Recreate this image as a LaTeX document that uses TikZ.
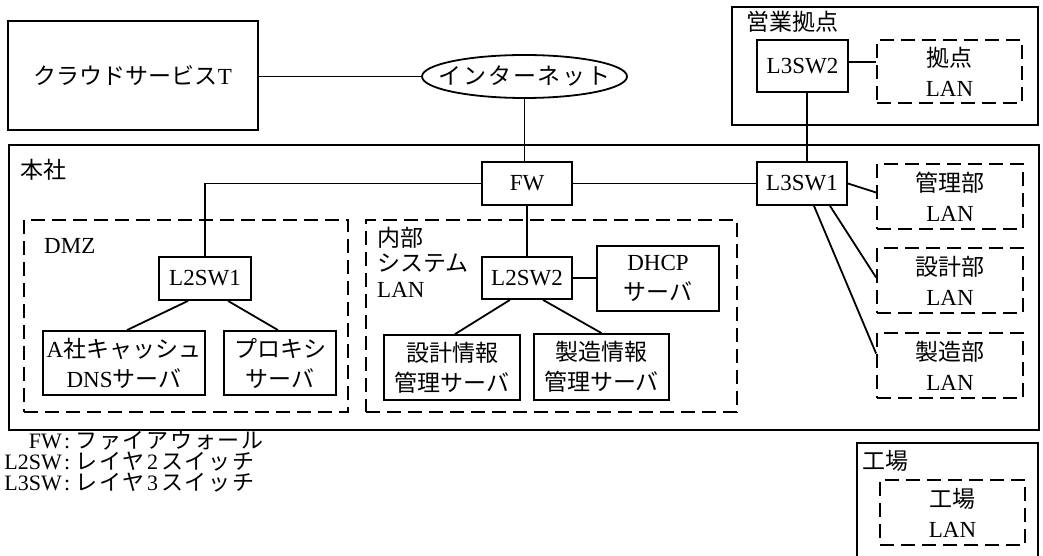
\documentclass[tikz,border=0pt]{standalone}
\usepackage{fontspec}
\setmainfont{Liberation Serif}
\newfontfamily\jpf{Noto Sans CJK JP}
\newfontfamily\jpfs[LetterSpace=8]{Noto Sans CJK JP}
\usetikzlibrary{shapes.geometric}
\begin{document}
\begin{tikzpicture}[x=1pt,y=-1pt,
  every node/.style={font=\fontsize{23}{30}\selectfont, inner sep=0pt},
  box/.style={draw, line width=1.8pt, rectangle, align=center},
  lan/.style={draw, line width=1.8pt, dash pattern=on 14pt off 7pt, align=center},
  link/.style={line width=1.8pt},
  lbl/.style={anchor=west},
  legend/.style={font=\fontsize{22}{26}\selectfont}]
\useasboundingbox (0,0) rectangle (1043,556);

% containers
\node[box, minimum width=306pt, minimum height=118pt] (eigyo) at (885,66) {};
\node[box, minimum width=1030pt, minimum height=285pt] (honsha) at (524,287.5) {};
\node[lan, minimum width=324pt, minimum height=192pt] (dmz) at (186,316) {};
\node[lan, minimum width=371pt, minimum height=192pt] (naibu) at (551.5,316) {};
\node[box, minimum width=181pt, minimum height=122pt] (kojo) at (947.5,504) {};

% container labels
\node[lbl] (eigyolbl) at (746,22) {\jpf 営業拠点};
\node[lbl] (honshalbl) at (20,170) {\jpf 本社};
\node[lbl] (dmzlbl) at (44,246) {DMZ};
\node[lbl, align=left, font=\fontsize{23}{25.5}\selectfont] (naibulbl) at (377,262) {{\jpf 内部}\\{\jpf システム}\\LAN};
\node[lbl] (kojolbl) at (862,461) {\jpf 工場};

% top
\node[box, minimum width=250pt, minimum height=109pt] (cloud) at (133,75.5) {{\jpf クラウドサービス}T};
\node[draw, ellipse, line width=1.8pt, minimum width=205pt, minimum height=43pt] (inet) at (524.5,76.5) {};
\node (inettxt) at (inet.center) {\jpfs インターネット};
\node[box, minimum width=91pt, minimum height=52pt] (l3sw2) at (802.5,66) {L3SW2};
\node[lan, minimum width=145pt, minimum height=63pt] (kyoten) at (949.5,71.5) {{\jpf 拠点}\\LAN};

% honsha
\node[box, minimum width=90pt, minimum height=43pt] (fw) at (527,183.5) {FW};
\node[box, minimum width=92pt, minimum height=43pt] (l2sw1) at (205,278.5) {L2SW1};
\node[box, minimum width=162pt, minimum height=64pt] (dns) at (124,363) {A{\jpf 社キャッシュ}\\DNS{\jpf サーバ}};
\node[box, minimum width=112pt, minimum height=64pt] (proxy) at (280,363) {{\jpf プロキシ}\\{\jpf サーバ}};
\node[box, minimum width=90pt, minimum height=42pt] (l2sw2) at (527,278) {L2SW2};
\node[box, minimum width=122pt, minimum height=65pt] (dhcp) at (658,278.5) {DHCP\\{\jpf サーバ}};
\node[box, minimum width=136pt, minimum height=65pt] (sinfo) at (452,367.5) {{\jpf 設計情報}\\{\jpf 管理サーバ}};
\node[box, minimum width=135pt, minimum height=66pt] (minfo) at (601.5,367) {{\jpf 製造情報}\\{\jpf 管理サーバ}};
\node[box, minimum width=90pt, minimum height=43pt] (l3sw1) at (802,183.5) {L3SW1};
\node[lan, minimum width=146pt, minimum height=65pt] (kanri) at (950,196.5) {{\jpf 管理部}\\LAN};
\node[lan, minimum width=146pt, minimum height=65pt] (sekkei) at (950,280.5) {{\jpf 設計部}\\LAN};
\node[lan, minimum width=146pt, minimum height=65pt] (seizo) at (950,365.5) {{\jpf 製造部}\\LAN};

% factory
\node[lan, minimum width=145pt, minimum height=65pt] (kojolan) at (952.5,512.5) {{\jpf 工場}\\LAN};

% connectors
\draw[link] (cloud.east |- inet.west) -- (inet.west);
\draw[link] (inet.south) -- (inet.south |- fw.north);
\draw[link] ([xshift=4.5pt]l3sw2.south) -- ([xshift=4.5pt]l3sw2.south |- l3sw1.north);
\draw[link] ([yshift=4pt]l3sw2.east) -- ([yshift=4pt]l3sw2.east -| kyoten.west);
\draw[link] (fw.west) -| (l2sw1.north);
\draw[link] (fw.east) -- (l3sw1.west);
\draw[link] (fw.south) -- (l2sw2.north);
\draw[link] ([xshift=-17pt]l2sw1.south) -- ([xshift=3pt]dns.north);
\draw[link] ([xshift=23pt]l2sw1.south) -- ([xshift=-2pt]proxy.north);
\draw[link] ([xshift=-17pt]l2sw2.south) -- ([xshift=3pt]sinfo.north);
\draw[link] ([xshift=16pt]l2sw2.south) -- (minfo.north);
\draw[link] (l2sw2.east) -- (dhcp.west |- l2sw2.east);
\draw[link] (l3sw1.east) -- ([yshift=4pt]kanri.west);
\draw[link] ([xshift=28pt]l3sw1.south) -- ([yshift=3pt]sekkei.west);
\draw[link] ([xshift=12pt]l3sw1.south) -- ([yshift=12pt]seizo.west);

% legend
\node[legend, anchor=base east] (lfw) at (62,448) {FW};
\node[legend, anchor=base west] (lfwt) at (62,448) {\hspace{2pt}:\hspace{5pt}{\jpfs ファイアウォール}};
\node[legend, anchor=base east] (ll2) at (62,469) {L2SW};
\node[legend, anchor=base west] (ll2t) at (62,469) {\hspace{2pt}:\hspace{5pt}{\jpfs レイヤ}\hspace{3pt}2\hspace{3pt}{\jpfs スイッチ}};
\node[legend, anchor=base east] (ll3) at (62,490) {L3SW};
\node[legend, anchor=base west] (ll3t) at (62,490) {\hspace{2pt}:\hspace{5pt}{\jpfs レイヤ}\hspace{3pt}3\hspace{3pt}{\jpfs スイッチ}};
\end{tikzpicture}
\end{document}
